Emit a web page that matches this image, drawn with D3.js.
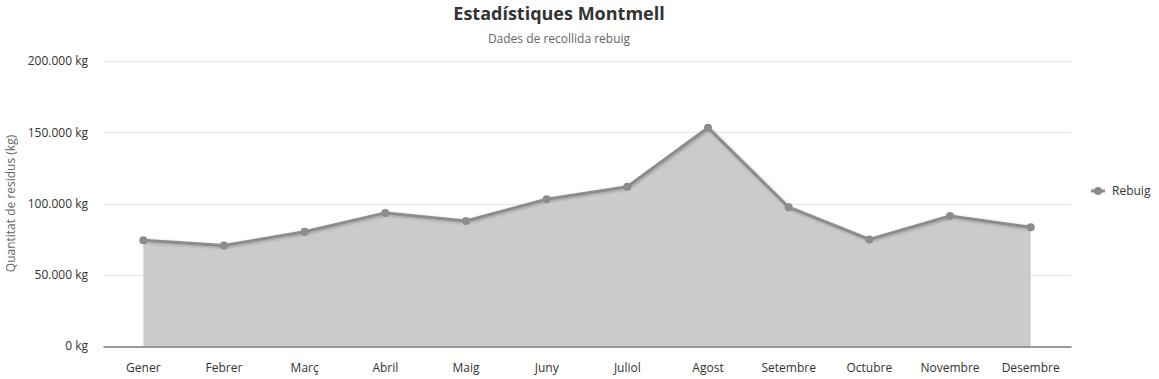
<!DOCTYPE html>
<html>
<head>
<meta charset="utf-8">
<script src="https://cdn.jsdelivr.net/npm/d3@7"></script>
<style>
  body { margin: 0; background: #fff; }
  svg, svg text { font-family: 'Open Sans', 'Noto Sans', sans-serif; }
</style>
</head>
<body>
<div id="chart"></div>
<script>
const months = ['Gener', 'Febrer', 'Març', 'Abril', 'Maig', 'Juny', 'Juliol', 'Agost', 'Setembre', 'Octubre', 'Novembre', 'Desembre'];
const rebuig = [74200, 70500, 80200, 93400, 87700, 103000, 111700, 153200, 97400, 74800, 91200, 83300];
const yTicks = [0, 50000, 100000, 150000, 200000];

const width = 1159, height = 379;
const margin = { top: 61, right: 88, bottom: 33, left: 103 };

const fmt = (v) => d3.format(',')(v).replace(/,/g, '.') + ' kg';

const svg = d3.select('#chart')
  .append('svg')
  .attr('width', width)
  .attr('height', height);

const defs = svg.append('defs');
const shadow = defs.append('filter').attr('id', 'shadow')
  .attr('x', '-5%').attr('y', '-20%').attr('width', '110%').attr('height', '140%');
shadow.append('feDropShadow')
  .attr('dx', 1).attr('dy', 1).attr('stdDeviation', 1.5)
  .attr('flood-color', '#000').attr('flood-opacity', 0.25);

const x = d3.scaleBand()
  .domain(months)
  .range([margin.left, width - margin.right]);

const y = d3.scaleLinear()
  .domain([0, 200000])
  .range([height - margin.bottom, margin.top]);

// grid
svg.append('g')
  .selectAll('line')
  .data(yTicks.slice(1))
  .enter().append('line')
  .attr('x1', margin.left)
  .attr('x2', width - margin.right)
  .attr('y1', (d) => Math.round(y(d)) + 0.5)
  .attr('y2', (d) => Math.round(y(d)) + 0.5)
  .style('stroke', '#e6e6e6');

const cx = (d, i) => x(months[i]) + x.bandwidth() / 2;

const area = d3.area()
  .x(cx)
  .y0(y(0))
  .y1((d) => y(d));

const line = d3.line()
  .x(cx)
  .y((d) => y(d));

svg.append('path')
  .datum(rebuig)
  .attr('d', area)
  .style('fill', '#cbcbcb');

svg.append('path')
  .datum(rebuig)
  .attr('d', line)
  .style('fill', 'none')
  .style('stroke', '#8c8c8c')
  .style('stroke-width', 3)
  .style('stroke-linejoin', 'round')
  .attr('filter', 'url(#shadow)');

svg.append('g')
  .selectAll('circle')
  .data(rebuig)
  .enter().append('circle')
  .attr('cx', cx)
  .attr('cy', (d) => y(d))
  .attr('r', 4)
  .style('fill', '#8c8c8c');

// x axis
const xAxis = svg.append('g')
  .attr('transform', `translate(0,${Math.round(y(0)) + 0.5})`)
  .call(d3.axisBottom(x).tickSize(0).tickPadding(17));
xAxis.attr('font-family', null);
xAxis.select('.domain').style('stroke', '#333').style('stroke-width', 1);
xAxis.selectAll('text').style('font-size', '12px').style('fill', '#333');

// y axis
const yAxis = svg.append('g')
  .attr('transform', `translate(${margin.left},0)`)
  .call(d3.axisLeft(y).tickValues(yTicks).tickFormat(fmt).tickSize(0).tickPadding(15));
yAxis.attr('font-family', null);
yAxis.select('.domain').remove();
yAxis.selectAll('text').style('font-size', '12px').style('fill', '#333');

svg.append('text')
  .attr('transform', `translate(15,${(y(0) + y(200000)) / 2}) rotate(-90)`)
  .attr('text-anchor', 'middle')
  .style('font-size', '12px')
  .style('fill', '#666')
  .text('Quantitat de residus (kg)');

// titles
svg.append('text')
  .attr('x', 559).attr('y', 20)
  .attr('text-anchor', 'middle')
  .style('font-size', '18px')
  .style('font-weight', 'bold')
  .style('fill', '#333')
  .text('Estadístiques Montmell');

svg.append('text')
  .attr('x', 559).attr('y', 43)
  .attr('text-anchor', 'middle')
  .style('font-size', '12px')
  .style('fill', '#666')
  .text('Dades de recollida rebuig');

// legend
const legend = svg.append('g').attr('transform', 'translate(1091,191)');
legend.append('line')
  .attr('x1', 0).attr('x2', 14)
  .style('stroke', '#8c8c8c').style('stroke-width', 3);
legend.append('circle')
  .attr('cx', 7).attr('r', 4)
  .style('fill', '#8c8c8c');
legend.append('text')
  .attr('x', 21).attr('dy', '0.35em')
  .style('font-size', '12px')
  .style('fill', '#333')
  .text('Rebuig');
</script>
</body>
</html>
